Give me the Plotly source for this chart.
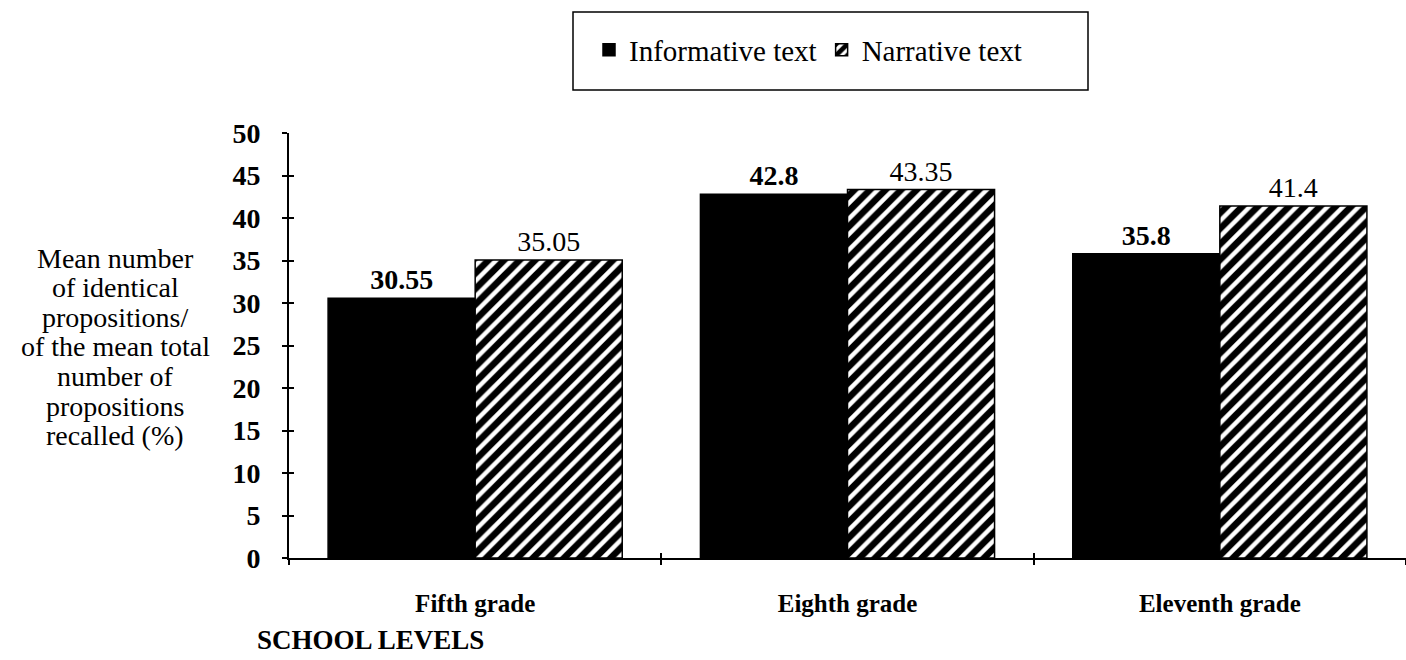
import plotly.graph_objects as go

categories = ["Fifth grade", "Eighth grade", "Eleventh grade"]
informative = [30.55, 42.8, 35.8]
narrative = [35.05, 43.35, 41.4]
informative_labels = ["30.55", "42.8", "35.8"]
narrative_labels = ["35.05", "43.35", "41.4"]
y_ticks = [0, 5, 10, 15, 20, 25, 30, 35, 40, 45, 50]
y_title_lines = ["Mean number", "of identical", "propositions/", "of the mean total",
                 "number of", "propositions", "recalled (%)"]

FONT = "Liberation Serif"
# plot area in pixels (for converting layout positions)
L, R, T, B = 289, 1406, 133, 558
W, H = R - L, B - T


def px(xp):
    return (xp - L) / W


def py(yp):
    return (B - yp) / H


fig = go.Figure()
fig.add_trace(go.Bar(
    name="Informative text", x=categories, y=informative,
    text=["<b>%s</b>" % t for t in informative_labels], textposition="outside",
    textfont=dict(family=FONT, size=28, color="black"),
    marker=dict(color="black", line=dict(color="black", width=1.5)),
    cliponaxis=False,
))
fig.add_trace(go.Bar(
    name="Narrative text", x=categories, y=narrative,
    text=narrative_labels, textposition="outside",
    textfont=dict(family=FONT, size=28, color="black"),
    marker=dict(color="white", line=dict(color="black", width=1.5),
                pattern=dict(shape="/", size=11, solidity=0.6, fgcolor="black",
                             bgcolor="white", fgopacity=1)),
    cliponaxis=False,
))
# invisible trace carrying the second (crossing-tick) axes
fig.add_trace(go.Scatter(x=categories, y=[None] * len(categories), xaxis="x2", yaxis="y2",
                         showlegend=False, hoverinfo="skip", mode="markers"))

fig.update_layout(
    width=1406, height=660,
    margin=dict(l=L, r=1406 - R, t=T, b=660 - B, autoexpand=False),
    paper_bgcolor="white", plot_bgcolor="white",
    barmode="group", bargap=0.21, bargroupgap=0,
    font=dict(family=FONT, color="black"),
    showlegend=True,
    legend=dict(
        orientation="h", x=px(589), xanchor="left", y=py(50), yanchor="middle",
        borderwidth=0, bgcolor="rgba(0,0,0,0)",
        font=dict(family=FONT, size=29, color="black"),
    ),
    xaxis=dict(
        showline=True, linecolor="black", linewidth=2,
        ticks="outside", tickson="boundaries", ticklen=5, tickcolor="black", tickwidth=1.5,
        tickfont=dict(family=FONT, size=25, color="black", weight="bold"),
        ticklabelstandoff=22, showgrid=False, zeroline=False,
    ),
    xaxis2=dict(
        overlaying="x", matches="x", ticks="inside", tickson="boundaries", ticklen=5,
        tickcolor="black", tickwidth=1.5, showticklabels=False, showgrid=False,
        zeroline=False, showline=False,
    ),
    yaxis=dict(
        range=[0, 50], tickvals=y_ticks, showline=True, linecolor="black", linewidth=2,
        ticks="outside", ticklen=5, tickcolor="black", tickwidth=1.5,
        tickfont=dict(family=FONT, size=28, color="black", weight="bold"),
        ticklabelstandoff=16, showgrid=False, zeroline=False,
    ),
    yaxis2=dict(
        range=[0, 50], tickvals=y_ticks, overlaying="y", side="left",
        ticks="inside", ticklen=5, tickcolor="black", tickwidth=1.5,
        showticklabels=False, showgrid=False, zeroline=False, showline=False,
    ),
)

# legend frame
fig.add_shape(type="rect", xref="paper", yref="paper",
              x0=px(573), x1=px(1088), y0=py(90), y1=py(12),
              line=dict(color="black", width=1.5), fillcolor="rgba(0,0,0,0)")

# y-axis title, one annotation per line
y_centers = [258, 287, 317, 346, 376, 406, 435]
for line, yc in zip(y_title_lines, y_centers):
    fig.add_annotation(
        text=line, xref="paper", yref="paper", x=px(115), y=py(yc),
        xanchor="center", yanchor="middle", showarrow=False,
        font=dict(family=FONT, size=28, color="black"),
    )

fig.add_annotation(
    text="<b>SCHOOL LEVELS</b>",
    xref="paper", yref="paper", x=px(255), y=py(640), xanchor="left", yanchor="middle",
    showarrow=False, font=dict(family=FONT, size=27, color="black"),
)

fig.write_html("out.html", config={"displayModeBar": False},
               post_script="document.body.style.margin='0';document.body.style.overflow='hidden';")
